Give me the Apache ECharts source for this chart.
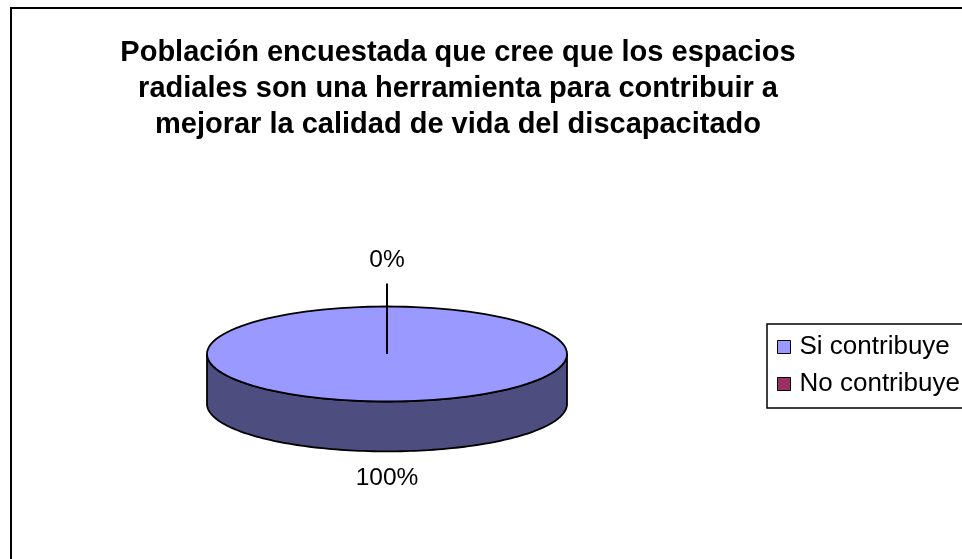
<!DOCTYPE html>
<html>
<head>
<meta charset="utf-8">
<script src="https://cdn.jsdelivr.net/npm/echarts@6/dist/echarts.min.js"></script>
<style>
  html, body { margin: 0; padding: 0; background: #fff; }
  #chart { width: 962px; height: 559px; }
</style>
</head>
<body>
<div id="chart"></div>
<script>
// chart data
var categories = ["Si contribuye", "No contribuye"];
var values = [100, 0];
var pctLabels = ["100%", "0%"];

var topColors = ["#9999FF", "#993366"];
var sideColors = ["#4D4D80", "#4D1A33"];

var depth = 1.05; // thickness of the disc, in y units of the grid
var total = values.reduce(function (a, b) { return a + b; }, 0);
var starts = [];
var acc = 0;
values.forEach(function (v) { starts.push(acc / total); acc += v; });

// point on the unit ellipse, clockwise from 12 o'clock
function pt(f, dy) {
  var a = f * Math.PI * 2;
  return [Math.sin(a), Math.cos(a) + (dy || 0)];
}

function makeRender(i) {
  return function (params, api) {
    var f0 = starts[i];
    var f1 = f0 + values[i] / total;
    var children = [];
    var n = 120;
    var k;

    // front side (only the lower half of the ellipse is visible)
    var s0 = Math.max(f0, 0.25), s1 = Math.min(f1, 0.75);
    if (s1 > s0) {
      var upper = [], lower = [];
      for (k = 0; k <= n; k++) {
        var f = s0 + (s1 - s0) * k / n;
        upper.push(api.coord(pt(f)));
        lower.push(api.coord(pt(f, -depth)));
      }
      children.push({
        type: "polygon",
        shape: { points: upper.concat(lower.reverse()) },
        style: { fill: sideColors[i], stroke: "#000", lineWidth: 1.8 }
      });
    }

    // top face
    var full = f1 - f0 >= 1;
    var pts = full ? [] : [api.coord([0, 0])];
    for (k = 0; k <= n; k++) {
      pts.push(api.coord(pt(f0 + (f1 - f0) * k / n)));
    }
    children.push({
      type: full ? "polygon" : "polyline",
      shape: { points: pts },
      style: full
        ? { fill: topColors[i], stroke: "#000", lineWidth: 1.8 }
        : { fill: null, stroke: "#000", lineWidth: 2 }
    });

    // label
    var mid = (f0 + f1) / 2;
    var ma = mid * Math.PI * 2;
    var isLow = Math.cos(ma) < 0;
    var edge = api.coord(pt(mid, isLow ? -depth : 0));
    var dx = Math.sin(ma), dyv = -Math.cos(ma);
    var tiny = values[i] / total < 0.05;
    var off = tiny ? 46 : 27;
    if (tiny) {
      children.push({
        type: "line",
        shape: { x1: edge[0], y1: edge[1], x2: edge[0] + dx * 23, y2: edge[1] + dyv * 23 },
        style: { stroke: "#000", lineWidth: 2 }
      });
    }
    children.push({
      type: "text",
      x: edge[0] + dx * off,
      y: edge[1] + dyv * off,
      style: {
        text: pctLabels[i],
        fill: "#000",
        font: "24.5px 'Liberation Sans', Arial, sans-serif",
        align: "center",
        verticalAlign: "middle"
      }
    });
    return { type: "group", children: children };
  };
}

var chart = echarts.init(document.getElementById("chart"));
chart.setOption({
  animation: false,
  backgroundColor: "#fff",
  title: {
    text: "Población encuestada que cree que los espacios\nradiales son una herramienta para contribuir a\nmejorar la calidad de vida del discapacitado",
    left: 458,
    textAlign: "center",
    top: 35,
    padding: 0,
    textStyle: {
      fontFamily: "'Liberation Sans', Arial, sans-serif",
      fontSize: 29,
      fontWeight: "bold",
      lineHeight: 36,
      color: "#000"
    }
  },
  legend: {
    orient: "vertical",
    left: 767,
    top: 324,
    data: categories,
    icon: "rect",
    itemWidth: 13,
    itemHeight: 13,
    itemGap: 11,
    padding: [10, 20, 11, 10],
    borderColor: "#000",
    borderWidth: 1.5,
    backgroundColor: "#fff",
    itemStyle: { borderColor: "#000", borderWidth: 1 },
    textStyle: {
      fontFamily: "'Liberation Sans', Arial, sans-serif",
      fontSize: 26,
      lineHeight: 26,
      color: "#000",
      padding: [0, 0, 0, 4]
    }
  },
  graphic: [{
    type: "rect",
    shape: { x: 11, y: 8, width: 1000, height: 600 },
    style: { fill: null, stroke: "#000", lineWidth: 2 },
    z: -1
  }],
  grid: { left: 207, top: 306.5, width: 360, height: 147.25 },
  xAxis: { type: "value", min: -1, max: 1, show: false },
  yAxis: { type: "value", min: -2.1, max: 1, show: false },
  series: categories.map(function (name, i) {
    return {
      name: name,
      type: "custom",
      color: topColors[i],
      renderItem: makeRender(i),
      data: [[0, 0]],
      z: 2 + i
    };
  })
});
</script>
</body>
</html>
